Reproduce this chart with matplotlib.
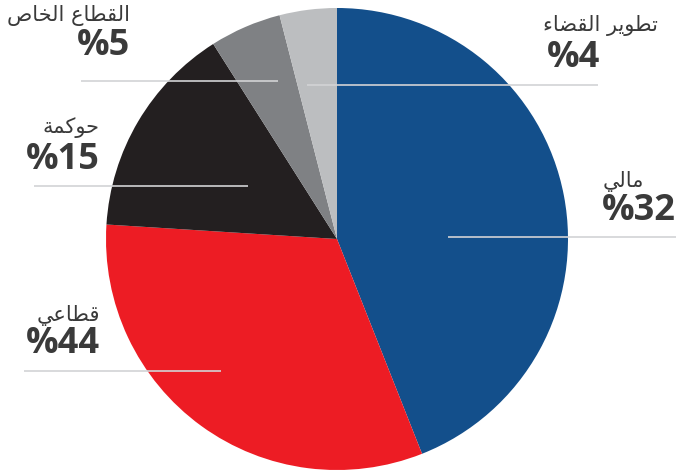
import matplotlib
matplotlib.use('Agg')
import matplotlib.pyplot as plt

# slice shares as drawn (measured from the wedge angles), clockwise from 12 o'clock
slice_shares = [44, 32, 15, 5, 4]
slice_colors = ['#134f8b', '#ed1c24', '#231f20', '#7f8184', '#bcbec0']

# callout texts as printed on the chart
label_names = ['مالي', 'قطاعي', 'حوكمة', 'القطاع الخاص', 'تطوير القضاء']
label_pcts = ['32', '44', '15', '5', '4']

# minimal Arabic shaping (presentation forms) since matplotlib has no shaper
FORMS = {
    'ا': ('\uFE8D', '\uFE8E', None, None),
    'ء': ('\uFE80', None, None, None),
    'ة': ('\uFE93', '\uFE94', None, None),
    'ت': ('\uFE95', '\uFE96', '\uFE97', '\uFE98'),
    'ح': ('\uFEA1', '\uFEA2', '\uFEA3', '\uFEA4'),
    'خ': ('\uFEA5', '\uFEA6', '\uFEA7', '\uFEA8'),
    'ر': ('\uFEAD', '\uFEAE', None, None),
    'ص': ('\uFEB9', '\uFEBA', '\uFEBB', '\uFEBC'),
    'ض': ('\uFEBD', '\uFEBE', '\uFEBF', '\uFEC0'),
    'ط': ('\uFEC1', '\uFEC2', '\uFEC3', '\uFEC4'),
    'ع': ('\uFEC9', '\uFECA', '\uFECB', '\uFECC'),
    'ق': ('\uFED5', '\uFED6', '\uFED7', '\uFED8'),
    'ك': ('\uFED9', '\uFEDA', '\uFEDB', '\uFEDC'),
    'ل': ('\uFEDD', '\uFEDE', '\uFEDF', '\uFEE0'),
    'م': ('\uFEE1', '\uFEE2', '\uFEE3', '\uFEE4'),
    'و': ('\uFEED', '\uFEEE', None, None),
    'ي': ('\uFEF1', '\uFEF2', '\uFEF3', '\uFEF4'),
}


def shape(word):
    out = []
    for i, ch in enumerate(word):
        f = FORMS.get(ch)
        if f is None:
            out.append(ch)
            continue
        prev = word[i - 1] if i > 0 else ''
        nxt = word[i + 1] if i + 1 < len(word) else ''
        jp = prev in FORMS and FORMS[prev][2] is not None and f[1] is not None
        jn = f[2] is not None and nxt in FORMS and FORMS[nxt][1] is not None
        if jp and jn:
            g = f[3]
        elif jp:
            g = f[1]
        elif jn:
            g = f[2]
        else:
            g = f[0]
        out.append(g)
    return ''.join(reversed(out))


fig = plt.figure(figsize=(6.81, 4.72), dpi=100)
ax = fig.add_axes([0, 0, 1, 1])

# y axis inverted -> counterclock in data space is clockwise on screen
ax.pie(slice_shares, colors=slice_colors, center=(337, 239), radius=231,
       startangle=-90, counterclock=True, wedgeprops=dict(linewidth=0))
ax.set_xlim(0, 681)
ax.set_ylim(472, 0)
ax.set_aspect('auto')
ax.axis('off')

# layout: (name right x, name y, pct anchor x, pct y, pct ha, line x0, line x1, line y)
layout = [
    (644, 182, 676, 211, 'right', 448, 676, 237),
    (100, 315, 100, 344, 'right', 24, 221, 371),
    (100, 128, 100, 160, 'right', 34, 248, 186),
    (130, 16, 130, 46, 'right', 81, 278, 81),
    (658, 26, 547, 58, 'left', 307, 598, 85),
]

text_color = '#3a3a3a'
for name, pct, (nx, ny, px, py, pha, lx0, lx1, ly) in zip(label_names, label_pcts, layout):
    ax.plot([lx0, lx1], [ly, ly], color='#d2d3d5', lw=1.2, solid_capstyle='butt')
    ax.text(nx, ny, shape(name), ha='right', va='center', fontsize=15,
            family='DejaVu Sans', color=text_color)
    ax.text(px, py, '%' + pct, ha=pha, va='center', fontsize=26,
            family='Open Sans', weight='bold', color=text_color)

fig.savefig('out.png', dpi=100)
